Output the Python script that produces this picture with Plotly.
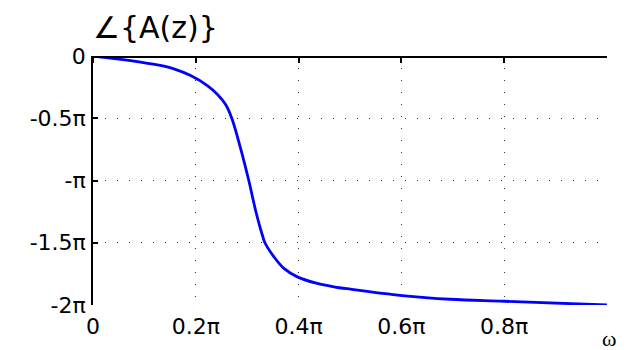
import plotly.graph_objects as go

# omega in units of pi, phase in units of pi
omega = [0.0, 0.0504, 0.0926, 0.125, 0.1574, 0.1899, 0.2224, 0.2418, 0.258, 0.270,
         0.285, 0.3031, 0.3161, 0.3294, 0.3345, 0.352, 0.3714, 0.3975, 0.4364,
         0.4687, 0.501, 0.6013, 0.6952, 0.80, 1.0]
phase = [0.0, -0.025, -0.049, -0.071, -0.103, -0.157, -0.237, -0.307, -0.39, -0.5,
         -0.709, -1.0, -1.237, -1.438, -1.5, -1.613, -1.706, -1.774, -1.827,
         -1.854, -1.873, -1.924, -1.954, -1.97, -2.0]

x_tickvals = [0, 0.2, 0.4, 0.6, 0.8]
x_ticktext = ["0", "0.2π", "0.4π", "0.6π", "0.8π"]
y_tickvals = [0, -0.5, -1, -1.5, -2]
y_ticktext = ["0", "-0.5π", "-π", "-1.5π", "-2π"]

FONT = "DejaVu Sans"

fig = go.Figure()
fig.add_trace(go.Scatter(
    x=omega, y=phase, mode="lines",
    line=dict(color="#0000ff", width=2.8, shape="spline", smoothing=1.0),
    showlegend=False, hoverinfo="skip",
))
# invisible copy on a hairline subplot at the top edge; its x axis line is the top frame
fig.add_trace(go.Scatter(
    x=omega, y=phase, mode="lines", xaxis="x2", yaxis="y2",
    line=dict(color="rgba(0,0,0,0)", width=0),
    showlegend=False, hoverinfo="skip",
))

grid_common = dict(showgrid=True, gridcolor="#333333", gridwidth=1, griddash="1px,11px")

fig.update_layout(
    width=626, height=350,
    margin=dict(l=93, r=19, t=56, b=45),
    paper_bgcolor="white", plot_bgcolor="rgba(0,0,0,0)",
    font=dict(family=FONT, size=22, color="black"),
    xaxis=dict(
        range=[0, 1], tickvals=x_tickvals, ticktext=x_ticktext, automargin=False,
        zeroline=False, showline=False, ticks="",
        ticklabelstandoff=6,
        tickfont=dict(family=FONT, size=22, color="black"),
        **grid_common,
    ),
    yaxis=dict(
        range=[-2, 0], tickvals=y_tickvals, ticktext=y_ticktext, automargin=False,
        showline=True, linecolor="black", linewidth=1.6, zeroline=False,
        ticks="inside", ticklen=5, tickcolor="black", tickwidth=1.5,
        ticklabelstandoff=1,
        tickfont=dict(family=FONT, size=22, color="black"),
        **grid_common,
    ),
    xaxis2=dict(
        range=[0, 1], anchor="y2", side="bottom", automargin=False,
        tickvals=x_tickvals, showticklabels=False, showgrid=False, zeroline=False,
        showline=True, linecolor="black", linewidth=1.6,
        ticks="outside", ticklen=5, tickcolor="black", tickwidth=1.5,
    ),
    yaxis2=dict(
        domain=[0.998, 1], anchor="x2", range=[-2, 0], automargin=False,
        showline=False, showticklabels=False, ticks="", showgrid=False, zeroline=False,
    ),
)

fig.add_annotation(
    text="∠{A(z)}", xref="paper", yref="paper", x=0, y=1,
    xanchor="left", yanchor="bottom", showarrow=False, yshift=9, xshift=-2,
    font=dict(family=FONT, size=30, color="black"),
)
fig.add_annotation(
    text="ω", xref="paper", yref="paper", x=1, y=0,
    xanchor="center", yanchor="top", showarrow=False, yshift=-19, xshift=2,
    font=dict(family="Liberation Serif", size=22, color="black"),
)

fig.write_html("out.html")
